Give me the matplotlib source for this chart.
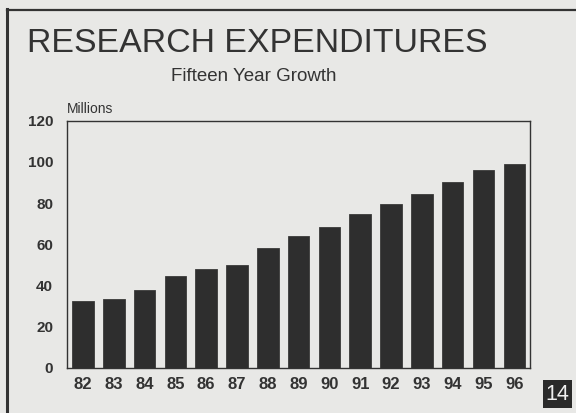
import matplotlib.pyplot as plt
from matplotlib.patches import Rectangle
from matplotlib.lines import Line2D

years = ['82', '83', '84', '85', '86', '87', '88', '89', '90',
         '91', '92', '93', '94', '95', '96']
spending = [32.4, 33.4, 37.8, 44.4, 48.0, 50.0, 58.2, 64.0, 68.2,
            74.8, 79.4, 84.3, 90.2, 95.9, 99.1]
y_ticks = [0, 20, 40, 60, 80, 100, 120]

W, H = 576, 413
paper = '#e8e8e6'
ink = '#2e2e2e'

plt.rcParams['font.family'] = ['Liberation Sans', 'DejaVu Sans']

fig = plt.figure(figsize=(W / 100, H / 100), dpi=100, facecolor=paper)
ax = fig.add_axes([67 / W, 1 - 367.7 / H, (529.7 - 67) / W, (367.7 - 120.7) / H])
ax.set_facecolor(paper)

x = range(len(years))
ax.bar(x, spending, width=0.7, color=ink, edgecolor='#3a3a3a', linewidth=0.6)

ax.set_xlim(-0.52, 14.5)
ax.set_ylim(0, 120)
ax.set_xticks(list(x))
ax.set_xticklabels(years, fontsize=12, fontweight='bold', color='#333333')
ax.set_yticks(y_ticks)
ax.set_yticklabels([str(v) for v in y_ticks], fontsize=11, fontweight='bold', color='#333333')
ax.tick_params(axis='both', length=0)
ax.tick_params(axis='x', pad=7)
ax.tick_params(axis='y', pad=10)
for s in ax.spines.values():
    s.set_color('#333333')
    s.set_linewidth(1.0)

# headings
fig.text(257.5 / W, 1 - 52 / H, 'RESEARCH EXPENDITURES', ha='center', va='baseline',
         fontsize=24.4, color='#333333')
fig.text(254 / W, 1 - 81 / H, 'Fifteen Year Growth', ha='center', va='baseline',
         fontsize=13.5, color='#333333')
fig.text(67 / W, 1 - 113 / H, 'Millions', ha='left', va='baseline',
         fontsize=10, color='#333333')

# page frame
fig.add_artist(Line2D([7 / W, 7 / W], [0, 1 - 9 / H], transform=fig.transFigure,
                      color='#333333', linewidth=2.2))
fig.add_artist(Line2D([7 / W, 1], [1 - 9.5 / H, 1 - 9.5 / H], transform=fig.transFigure,
                      color='#333333', linewidth=1.6))

# page number
fig.add_artist(Rectangle((543 / W, 1 - 408 / H), 29 / W, 28 / H, transform=fig.transFigure,
                         facecolor='#2a2a2a', edgecolor='none'))
fig.text(557.5 / W, 1 - 394 / H, '14', ha='center', va='center', fontsize=15.5,
         color='#f0f0f0')

fig.savefig('out.png', dpi=100, facecolor=paper)
